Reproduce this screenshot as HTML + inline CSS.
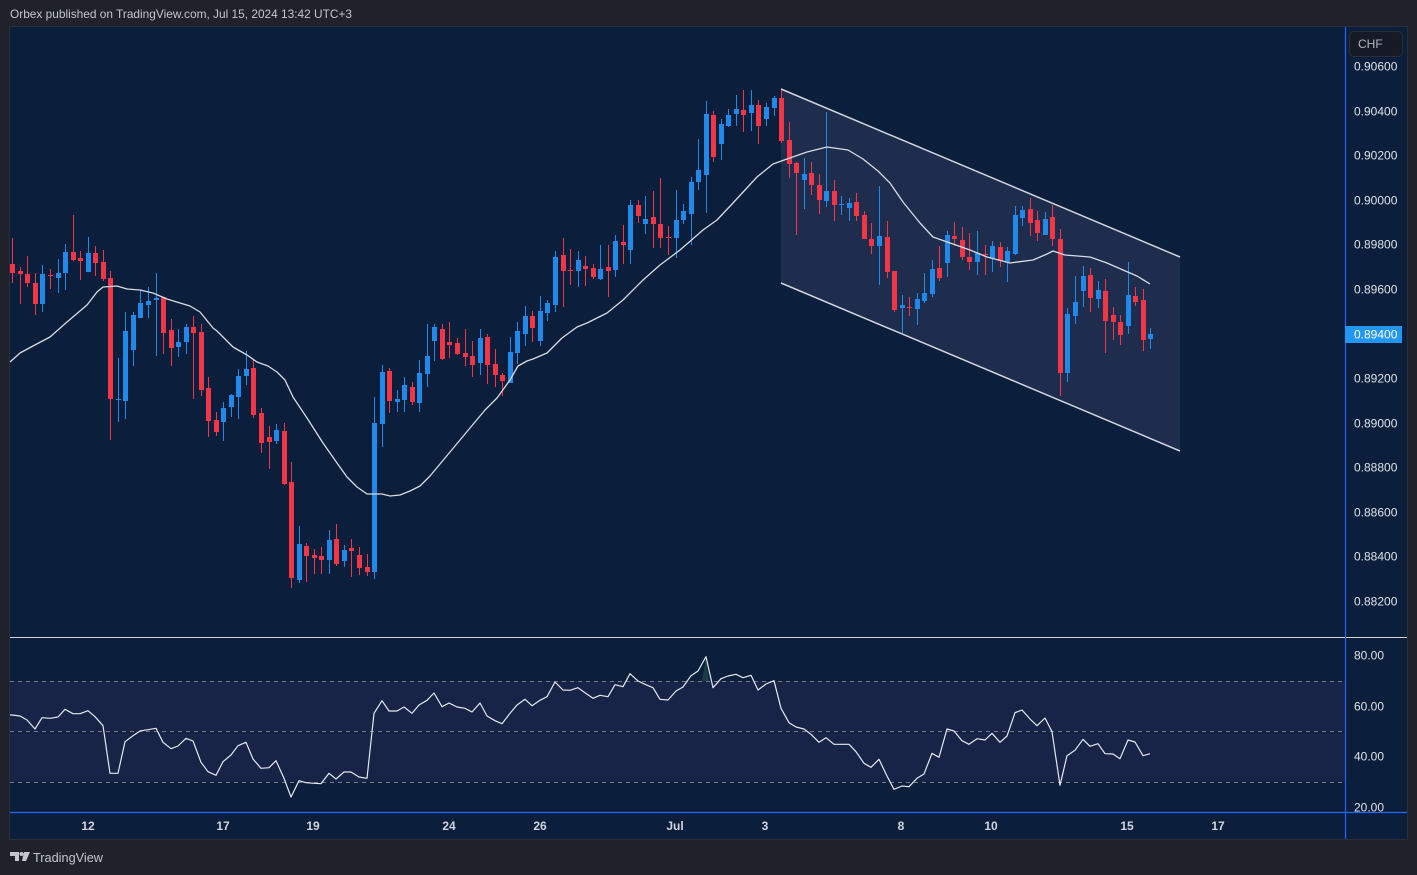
<!DOCTYPE html>
<html><head><meta charset="utf-8"><style>
html,body{margin:0;padding:0;background:#1f222b;width:1417px;height:875px;overflow:hidden}
svg{display:block}
text{font-family:"Liberation Sans",sans-serif}
</style></head><body>
<svg width="1417" height="875" viewBox="0 0 1417 875" xmlns="http://www.w3.org/2000/svg">
<rect x="0" y="0" width="1417" height="875" fill="#1f222b"/>
<text x="10" y="18" font-size="12" fill="#c3c6ce" textLength="342" lengthAdjust="spacingAndGlyphs">Orbex published on TradingView.com, Jul 15, 2024 13:42 UTC+3</text>
<rect x="9.5" y="26.5" width="1398" height="813" fill="#0b1f3c" stroke="#2a2e39" stroke-width="1"/>
<!-- channel fill -->
<polygon points="781,89 1180,257 1180,451 781,283" fill="#1e2d4e"/>
<!-- RSI band -->
<rect x="10" y="681" width="1335" height="101" fill="#172448"/>
<g stroke="#787b86" stroke-width="1" stroke-dasharray="4,4">
<line x1="10" y1="681.5" x2="1345" y2="681.5"/>
<line x1="10" y1="731.5" x2="1345" y2="731.5"/>
<line x1="10" y1="782.5" x2="1345" y2="782.5"/>
</g>
<polygon points="702,681 706,656.7 709,681" fill="#1d4a48" opacity="0.7"/>
<!-- red wicks -->
<path fill="none" stroke="#f23645" stroke-width="1" d="M12.5 238V283M20.5 267V304M27.5 256V287M35.5 273V315M50.5 269V289M73.5 215V261M80.5 251V280M95.5 246V276M103.5 250V281M110.5 271V440M163.5 297V354M171.5 319V366M193.5 316V399M201.5 324V396M208.5 377V437M216.5 412V436M253.5 360V418M261.5 408V453M269.5 426V469M284.5 423V485M291.5 462V588M306.5 543V582M314.5 549V574M321.5 547V574M336.5 524V566M351.5 539V577M359.5 547V575M367.5 554V576M389.5 368V413M412.5 382V405M442.5 324V360M449.5 322V358M457.5 338V355M465.5 329V366M472.5 341V377M487.5 334V384M495.5 349V387M502.5 373V396M532.5 311V342M563.5 238V307M570.5 249V285M585.5 256V286M593.5 264V279M608.5 245V297M623.5 225V264M638.5 200V223M653.5 191V248M660.5 178V248M668.5 226V255M713.5 111V162M743.5 90V132M758.5 100V144M781.5 89V143M789.5 122V178M796.5 162V235M811.5 162V195M819.5 174V214M834.5 180V221M856.5 193V221M864.5 211V239M871.5 223V254M887.5 221V278M894.5 271V312M909.5 297V316M939.5 246V281M954.5 222V246M962.5 227V260M969.5 233V270M985.5 245V275M1000.5 242V267M1030.5 198V236M1037.5 211V241M1052.5 205V246M1060.5 229V396M1090.5 268V312M1105.5 279V353M1113.5 307V340M1120.5 315V345M1135.5 287V306M1143.5 289V351"/>
<!-- red bodies -->
<path fill="#f23645" d="M10 264h5v9h-5zM18 271h5v3h-5zM25 274h5v9h-5zM33 283h5v21h-5zM48 275h5v1h-5zM71 252h5v8h-5zM78 258h5v3h-5zM93 253h5v10h-5zM101 262h5v17h-5zM108 278h5v121h-5zM161 297h5v36h-5zM169 330h5v18h-5zM191 327h5v6h-5zM199 332h5v58h-5zM206 388h5v33h-5zM214 420h5v12h-5zM251 368h5v47h-5zM259 413h5v30h-5zM267 437h5v5h-5zM282 431h5v53h-5zM289 482h5v96h-5zM304 546h5v10h-5zM312 555h5v3h-5zM319 556h5v4h-5zM334 539h5v25h-5zM349 548h5v3h-5zM357 555h5v13h-5zM365 567h5v5h-5zM387 371h5v30h-5zM410 387h5v15h-5zM440 329h5v30h-5zM447 342h5v3h-5zM455 343h5v11h-5zM463 353h5v4h-5zM470 356h5v9h-5zM485 337h5v28h-5zM493 364h5v11h-5zM500 375h5v6h-5zM530 316h5v12h-5zM561 255h5v16h-5zM568 270h5v1h-5zM583 266h5v3h-5zM591 268h5v9h-5zM606 267h5v4h-5zM621 242h5v3h-5zM636 205h5v11h-5zM651 217h5v7h-5zM658 224h5v14h-5zM666 237h5v1h-5zM711 115h5v42h-5zM741 110h5v5h-5zM756 105h5v21h-5zM779 98h5v43h-5zM787 140h5v24h-5zM794 163h5v10h-5zM809 173h5v12h-5zM817 185h5v15h-5zM832 191h5v14h-5zM854 202h5v14h-5zM862 215h5v24h-5zM869 239h5v7h-5zM885 237h5v35h-5zM892 271h5v39h-5zM907 307h5v1h-5zM937 268h5v10h-5zM952 236h5v3h-5zM960 240h5v17h-5zM967 257h5v5h-5zM983 254h5v1h-5zM998 247h5v14h-5zM1028 209h5v14h-5zM1035 220h5v13h-5zM1050 217h5v22h-5zM1058 239h5v134h-5zM1088 275h5v23h-5zM1103 291h5v30h-5zM1111 315h5v7h-5zM1118 322h5v13h-5zM1133 296h5v6h-5zM1141 300h5v40h-5z"/>
<!-- blue wicks -->
<path fill="none" stroke="#2189e9" stroke-width="1" d="M42.5 265V312M58.5 259V293M65.5 244V290M88.5 237V272M118.5 358V422M125.5 312V419M133.5 312V366M140.5 290V318M148.5 287V318M156.5 273V356M178.5 329V357M186.5 324V354M223.5 402V441M231.5 394V417M238.5 369V419M246.5 351V385M276.5 424V444M299.5 526V583M329.5 530V574M344.5 545V567M374.5 397V579M382.5 365V447M397.5 390V412M404.5 377V412M419.5 360V412M427.5 324V387M434.5 324V361M480.5 329V375M510.5 337V383M517.5 322V364M525.5 306V346M540.5 296V346M547.5 300V321M555.5 251V312M578.5 251V287M600.5 245V280M615.5 235V277M630.5 200V264M645.5 196V234M676.5 190V258M683.5 204V224M691.5 177V245M698.5 139V190M706.5 101V213M721.5 119V160M728.5 109V127M736.5 95V126M751.5 90V131M766.5 103V126M774.5 96V116M804.5 158V209M826.5 112V207M841.5 196V215M849.5 198V221M879.5 186V285M902.5 295V333M917.5 293V325M924.5 273V303M932.5 260V297M947.5 231V277M977.5 231V275M992.5 241V272M1007.5 247V282M1015.5 206V255M1022.5 206V226M1045.5 212V235M1067.5 308V382M1075.5 276V324M1083.5 266V307M1098.5 281V308M1128.5 262V334M1150.5 328V349"/>
<!-- blue bodies -->
<path fill="#2189e9" d="M40 274h5v30h-5zM56 273h5v5h-5zM63 252h5v21h-5zM86 253h5v19h-5zM116 399h5v1h-5zM123 331h5v70h-5zM131 315h5v35h-5zM138 303h5v15h-5zM146 301h5v4h-5zM154 298h5v2h-5zM176 342h5v5h-5zM184 327h5v15h-5zM221 408h5v14h-5zM229 395h5v12h-5zM236 376h5v21h-5zM244 369h5v7h-5zM274 430h5v11h-5zM297 544h5v36h-5zM327 540h5v20h-5zM342 550h5v11h-5zM372 423h5v149h-5zM380 372h5v52h-5zM395 399h5v3h-5zM402 385h5v15h-5zM417 373h5v30h-5zM425 356h5v18h-5zM432 327h5v14h-5zM478 338h5v25h-5zM508 352h5v31h-5zM515 331h5v22h-5zM523 316h5v18h-5zM538 311h5v30h-5zM545 303h5v10h-5zM553 257h5v48h-5zM576 260h5v11h-5zM598 269h5v10h-5zM613 241h5v29h-5zM628 205h5v45h-5zM643 219h5v5h-5zM674 220h5v18h-5zM681 211h5v9h-5zM689 182h5v32h-5zM696 170h5v12h-5zM704 114h5v61h-5zM719 124h5v20h-5zM726 115h5v11h-5zM734 109h5v5h-5zM749 105h5v8h-5zM764 107h5v12h-5zM772 98h5v10h-5zM802 174h5v6h-5zM824 191h5v10h-5zM839 204h5v1h-5zM847 203h5v5h-5zM877 236h5v10h-5zM900 305h5v3h-5zM915 299h5v10h-5zM922 293h5v8h-5zM930 269h5v25h-5zM945 235h5v28h-5zM975 253h5v9h-5zM990 246h5v12h-5zM1005 251h5v11h-5zM1013 215h5v39h-5zM1020 210h5v8h-5zM1043 219h5v16h-5zM1065 314h5v59h-5zM1073 302h5v14h-5zM1081 276h5v15h-5zM1096 290h5v9h-5zM1126 295h5v31h-5zM1148 334h5v5h-5z"/>
<!-- moving average -->
<polyline fill="none" stroke="#d8dbe2" stroke-width="1.3" stroke-linejoin="round" points="10,362 20,353 33,346 50,337 67,322 87,305 97,292 103,287 117,286 127,289 140,290 153,293 167,299 180,303 190,306 200,312 213,328 217,331 233,347 247,355 257,362 268,366 277,372 285,380 293,397 307,418 323,443 337,463 347,477 357,487 367,494 382,494 390,496 400,495 410,491 420,486 430,476 440,464 450,452 460,440 470,428 480,416 485,410 497,398 510,380 518,366 527,361 533,359 547,353 562,338 577,327 587,323 607,313 623,300 643,280 660,265 680,250 703,230 717,220 733,203 757,177 773,164 787,159 807,152 827,147 848,150 863,159 878,171 890,183 903,202 920,223 933,237 953,244 970,250 987,257 1010,263 1033,260 1047,254 1053,251 1065,255 1090,257 1107,263 1123,270 1137,276 1150,284"/>
<!-- channel lines -->
<g stroke="#d1d4dc" stroke-width="1.5">
<line x1="781" y1="89" x2="1180" y2="257"/>
<line x1="781" y1="283" x2="1180" y2="451"/>
</g>
<!-- RSI line -->
<polyline fill="none" stroke="#e6e8ee" stroke-width="1.2" stroke-linejoin="round" points="10,715 12,715 20,716 27,720 35,729 42,717.7 50,718.3 58,717 65,709.3 73,713.7 80,713.7 88,710.7 95,716.7 103,725.7 110,773.3 118,773.3 125,741.7 133,735.7 140,731 148,729.7 156,728.3 163,742.3 171,748.7 178,746 186,738.3 193,741 201,762.3 208,771.7 216,775.3 223,761.7 231,755 238,745.7 246,742.3 253,759 261,768.3 269,767.7 276,760.7 284,778.3 291,797 299,780.7 306,782.7 314,783.3 321,783.7 329,773.3 336,779 344,772 351,772 359,777 367,778.3 374,713.3 382,700.7 389,711 397,711 404,707 412,713.3 419,705 427,700.3 434,693 442,706.7 449,703 457,707 465,708.3 472,712 480,703 487,716 495,720.7 502,723.7 510,713.3 517,705 525,699.3 532,705.7 540,700.3 547,696.7 555,682 563,690 570,690.3 578,687.7 585,692.7 593,698.3 600,695.3 608,696.7 615,684.7 623,686.7 630,673.7 638,681 645,684.3 653,687.7 660,699.3 668,700 676,691 683,687 691,675.7 698,671 706,656.7 713,687.7 721,678.7 728,676 736,674.3 743,677.7 751,675.3 758,690 766,684 774,680.7 781,708.3 789,722.7 796,727 804,729 811,734.3 819,742.3 826,737.7 834,744.3 841,744.3 849,744.3 856,751.7 864,763.3 871,767.3 879,759.3 887,776 894,789.3 902,786 909,786.7 917,778.3 924,774 932,753.3 939,757.3 947,729 954,731 962,740.7 969,744.3 977,738.7 985,740 992,733.3 1000,742.3 1007,736 1015,712.7 1022,710 1030,719 1037,725.7 1045,718 1052,731.7 1060,785.3 1067,755.7 1075,750.3 1083,739.3 1090,746.3 1098,743.7 1105,753.7 1113,754 1120,758.7 1128,740 1135,742 1143,755.7 1150,753.7"/>
<!-- separators -->
<line x1="10" y1="637.5" x2="1407" y2="637.5" stroke="#d1d4dc" stroke-width="1"/>
<line x1="10" y1="812.5" x2="1407" y2="812.5" stroke="#2962ff" stroke-width="1.2"/>
<line x1="1345.5" y1="27" x2="1345.5" y2="839" stroke="#2962ff" stroke-width="1.2"/>
<!-- CHF box -->
<rect x="1349.5" y="31.5" width="53" height="25" rx="4" fill="#151a26" stroke="#2a2e39"/>
<text x="1358" y="48" font-size="12" fill="#b2b5be">CHF</text>
<!-- price labels -->
<g font-size="12" fill="#dfe1e6">
<text x="1354" y="70.5">0.90600</text>
<text x="1354" y="115.5">0.90400</text>
<text x="1354" y="159.5">0.90200</text>
<text x="1354" y="204.5">0.90000</text>
<text x="1354" y="248.5">0.89800</text>
<text x="1354" y="293.5">0.89600</text>
<text x="1354" y="382.5">0.89200</text>
<text x="1354" y="427.5">0.89000</text>
<text x="1354" y="471.5">0.88800</text>
<text x="1354" y="516.5">0.88600</text>
<text x="1354" y="560.5">0.88400</text>
<text x="1354" y="605.5">0.88200</text>
<text x="1354" y="659.5">80.00</text>
<text x="1354" y="710.5">60.00</text>
<text x="1354" y="760.5">40.00</text>
<text x="1354" y="811.5">20.00</text>
</g>
<rect x="1345" y="326" width="57" height="17" fill="#2196f3"/>
<text x="1354" y="338.5" font-size="12" fill="#ffffff">0.89400</text>
<!-- time labels -->
<g font-size="12" font-weight="bold" fill="#d1d4dc" text-anchor="middle">
<text x="88" y="830">12</text>
<text x="223" y="830">17</text>
<text x="313" y="830">19</text>
<text x="449" y="830">24</text>
<text x="540" y="830">26</text>
<text x="675" y="830">Jul</text>
<text x="765" y="830">3</text>
<text x="901" y="830">8</text>
<text x="991" y="830">10</text>
<text x="1127" y="830">15</text>
<text x="1218" y="830">17</text>
</g>
<!-- TradingView logo -->
<g fill="#c3c6ce">
<path d="M10 852h9v9h-4v-5h-5z"/>
<circle cx="21.5" cy="854" r="2"/>
<path d="M24 852h6l-4 9h-4z"/>
</g>
<text x="33" y="862" font-size="13" fill="#c3c6ce" textLength="70" lengthAdjust="spacingAndGlyphs">TradingView</text>
</svg>
</body></html>
